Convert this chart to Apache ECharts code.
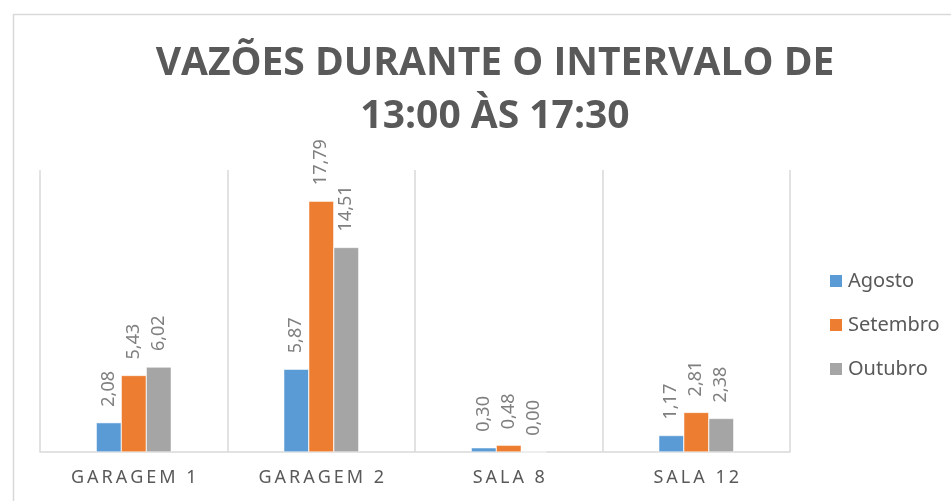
<!DOCTYPE html>
<html>
<head>
<meta charset="utf-8">
<script src="https://cdn.jsdelivr.net/npm/echarts@6/dist/echarts.min.js"></script>
<style>
  html, body { margin: 0; padding: 0; background: #fff; }
  #main { width: 951px; height: 501px; }
</style>
</head>
<body>
<div id="main"></div>
<script>
const categories = ["GARAGEM 1", "GARAGEM 2", "SALA 8", "SALA 12"]
const agosto = [2.08, 5.87, 0.30, 1.17]
const setembro = [5.43, 17.79, 0.48, 2.81]
const outubro = [6.02, 14.51, 0.00, 2.38]
const seriesNames = ["Agosto", "Setembro", "Outubro"]
const colors = ["#5B9BD5", "#ED7D31", "#A5A5A5"]

const chart = echarts.init(document.getElementById("main"))

const fmt = (v) => v.toFixed(2).replace(".", ",")
// excel style spaced caps on the category axis
const spaced = (s) => s.split("").join("\u2009")

const makeSeries = (name, data) => ({
  name: name,
  type: "bar",
  data: data,
  barGap: "0%",
  barCategoryGap: "60%",
  itemStyle: { borderColor: "#fff", borderWidth: 0.5 },
  label: {
    show: true,
    position: "top",
    rotate: 90,
    align: "left",
    verticalAlign: "middle",
    distance: 16,
    color: "#7f7f7f",
    fontFamily: "Noto Sans",
    fontSize: 18,
    formatter: (p) => fmt(p.value),
  },
})

const option = {
  color: colors,
  animation: false,
  title: {
    text: "VAZÕES DURANTE O INTERVALO DE\n13:00 ÀS 17:30",
    left: 490,
    top: 32,
    textAlign: "center",
    textStyle: {
      fontFamily: "Open Sans",
      fontWeight: "bold",
      fontSize: 39,
      lineHeight: 53,
      color: "#595959",
    },
  },
  graphic: [
    {
      type: "rect",
      left: 11,
      top: 12,
      shape: { width: 1000, height: 600 },
      style: { fill: "none", stroke: "#d9d9d9", lineWidth: 1.5 },
      silent: true,
    },
  ],
  legend: {
    orient: "vertical",
    left: 823,
    top: 266,
    itemWidth: 14,
    itemHeight: 14,
    itemGap: 24,
    icon: "rect",
    data: seriesNames,
    textStyle: { fontFamily: "Noto Sans", fontSize: 20, color: "#595959" },
  },
  grid: { left: 40, right: 161, top: 170, bottom: 49 },
  xAxis: {
    type: "category",
    data: categories,
    axisLine: { lineStyle: { color: "#d9d9d9", width: 1.5 } },
    axisTick: { show: false },
    splitLine: { show: true, lineStyle: { color: "#d9d9d9", width: 1.5 } },
    axisLabel: {
      margin: 17,
      fontFamily: "Noto Sans",
      fontSize: 18,
      color: "#595959",
      formatter: (v) => spaced(v),
    },
  },
  yAxis: {
    type: "value",
    min: 0,
    max: 20,
    show: false,
    splitLine: { show: false },
  },
  series: [
    makeSeries(seriesNames[0], agosto),
    makeSeries(seriesNames[1], setembro),
    makeSeries(seriesNames[2], outubro),
  ],
}

chart.setOption(option)
</script>
</body>
</html>
